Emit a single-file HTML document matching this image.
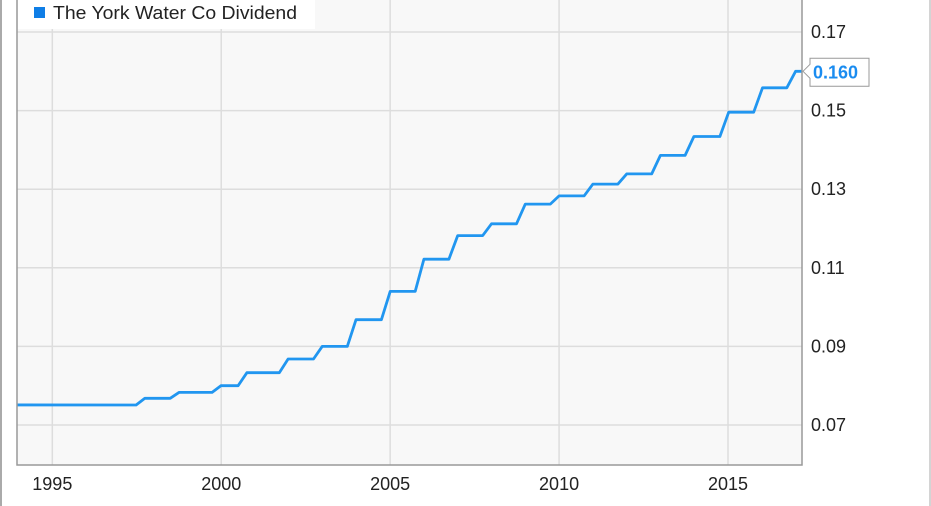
<!DOCTYPE html>
<html><head><meta charset="utf-8"><style>
html,body{margin:0;padding:0;background:#fff;}
svg{display:block;font-family:"Liberation Sans",Arial,sans-serif;}
</style></head><body>
<svg id="chart" width="931" height="506" viewBox="0 0 931 506" xmlns="http://www.w3.org/2000/svg">
<rect x="0" y="0" width="931" height="506" fill="#fff"/>
<line x1="1" y1="0" x2="1" y2="506" stroke="#aaa" stroke-width="2"/>
<line x1="930" y1="0" x2="930" y2="506" stroke="#aaa" stroke-width="1"/>
<rect x="17" y="0" width="785" height="465" fill="#f8f8f8"/>
<g id="grid"></g>
<g id="series"></g>
<path d="M17 0 V465 H802 V0" fill="none" stroke="#999" stroke-width="1.5"/>
<g id="yaxis"></g>
<g id="xaxis"></g>
<g>
<rect x="18" y="0" width="297" height="29" fill="#fff"/>
<rect x="34" y="7" width="11" height="11" fill="#0f7ee6"/>
<text x="53" y="19" font-size="18" fill="#222" textLength="244" lengthAdjust="spacingAndGlyphs">The York Water Co Dividend</text>
</g>
<g id="lastlabel"></g>
</svg>
<script>
const stepYears = [1993.9, 1997.74, 1998.75, 1999.99, 2000.76, 2001.98, 2002.99, 2003.99, 2005.0, 2006.0, 2007.0, 2008.0, 2009.0, 2010.0, 2011.0, 2012.0, 2013.0, 2013.99, 2015.02, 2016.02, 2017.0];
const stepValues = [0.0751, 0.0768, 0.0783, 0.0800, 0.0833, 0.0868, 0.0900, 0.0968, 0.1040, 0.1122, 0.1182, 0.1212, 0.1262, 0.1283, 0.1313, 0.1339, 0.1386, 0.1434, 0.1496, 0.1558, 0.1600];
const yTicks = [0.07, 0.09, 0.11, 0.13, 0.15, 0.17];
const yTickLabels = ["0.07", "0.09", "0.11", "0.13", "0.15", "0.17"];
const xTicks = [1995, 2000, 2005, 2010, 2015];
const xTickLabels = ["1995", "2000", "2005", "2010", "2015"];
const lastLabel = "0.160";

const NS = "http://www.w3.org/2000/svg";
const L = 17, R = 802, T = 0, B = 465;
const xMin = 1993.955, xMax = 2017.19;
const x = v => L + (v - xMin) / (xMax - xMin) * (R - L);
const y = v => 425 - (v - 0.07) / 0.02 * 78.6;
function mk(tag, attrs, parent) { const e = document.createElementNS(NS, tag); for (const k in attrs) e.setAttribute(k, attrs[k]); parent.appendChild(e); return e; }

const grid = document.getElementById('grid');
yTicks.forEach((t, i) => {
  const ln = mk('line', {x1: L, x2: R, y1: y(t), y2: y(t), stroke: '#dddddd', 'stroke-width': 1.5}, grid);
  
  
  const tx = mk('text', {x: 811, y: y(t) + 6, 'font-size': 18, fill: '#222'}, document.getElementById('yaxis'));
  tx.textContent = yTickLabels[i];
  
  
});
xTicks.forEach((t, i) => {
  const ln = mk('line', {x1: x(t), x2: x(t), y1: T, y2: B, stroke: '#dddddd', 'stroke-width': 1.5}, grid);
  
  
  const tx = mk('text', {x: x(t), y: 490, 'font-size': 18, fill: '#222', 'text-anchor': 'middle'}, document.getElementById('xaxis'));
  tx.textContent = xTickLabels[i];
  
  
});

const ramp = 0.26;
let d = 'M' + x(xMin) + ' ' + y(stepValues[0]);
for (let i = 1; i < stepYears.length; i++) {
  d += ' L' + x(stepYears[i] - ramp).toFixed(1) + ' ' + y(stepValues[i - 1]).toFixed(1);
  d += ' L' + x(stepYears[i]).toFixed(1) + ' ' + y(stepValues[i]).toFixed(1);
}
d += ' L' + R + ' ' + y(stepValues[stepValues.length - 1]).toFixed(1);
const p = mk('path', {d: d, fill: 'none', stroke: '#2196f0', 'stroke-width': 2.8, 'stroke-linejoin': 'round'}, document.getElementById('series'));



const lv = y(stepValues[stepValues.length - 1]);
const lg = document.getElementById('lastlabel');
const box = mk('path', {d: `M803 ${lv} L810 ${lv - 7} V${lv - 13} H869 V${lv + 15} H810 V${lv + 7} Z`, fill: '#fff', stroke: '#999', 'stroke-width': 1}, lg);


const lt = mk('text', {x: 813, y: lv + 7, 'font-size': 18, 'font-weight': 'bold', fill: '#1a8cf0'}, lg);
lt.textContent = lastLabel;


</script>
</body></html>
